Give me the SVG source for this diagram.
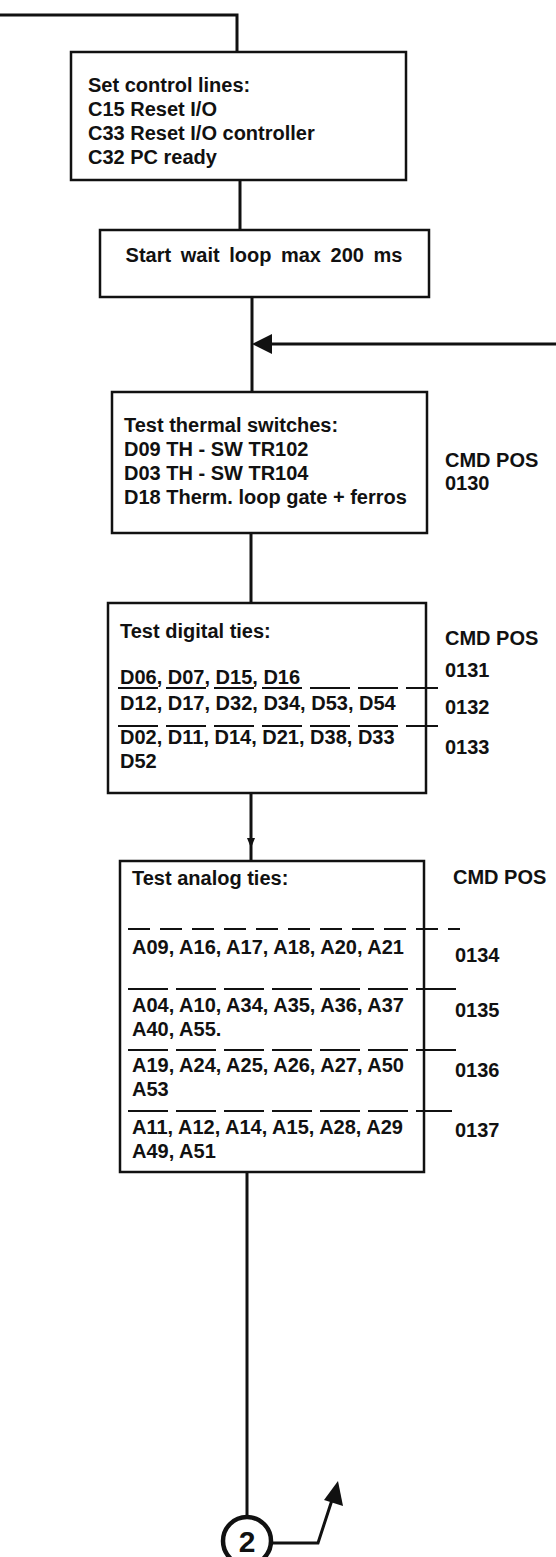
<svg xmlns="http://www.w3.org/2000/svg" width="556" height="1557" viewBox="0 0 556 1557">
<style>
text{font-family:"Liberation Sans",Arial,sans-serif;font-weight:bold;font-size:20px;fill:#111}
.box{fill:#fff;stroke:#111;stroke-width:2.5}
.ln{fill:none;stroke:#111;stroke-width:3}
.sep{fill:none;stroke:#111;stroke-width:2;stroke-dasharray:40 8}
.sep2{fill:none;stroke:#111;stroke-width:2;stroke-dasharray:22 10}
.mid{text-anchor:middle}
</style>
<g id="connectors">
<path class="ln" d="M0,15 H237 V52"/>
<path class="ln" d="M240,180 V230"/>
<path class="ln" d="M252,297 V392"/>
<path class="ln" d="M556,344 H270"/>
<path d="M252,344 L272,334 L272,354 Z" fill="#111"/>
<path class="ln" d="M251,533 V603"/>
<path class="ln" d="M251,793 V861"/>
<path d="M251,848 L247,838 L255,838 Z" fill="#111"/>
<path class="ln" d="M247,1172 V1515"/>
<path class="ln" d="M273,1543 H318 L332,1500"/>
<path d="M338,1481 L343,1506 L324,1500 Z" fill="#111"/>
</g>
<g id="n1">
<rect class="box" x="71" y="52" width="335" height="128"/>
<text x="88" y="92">Set control lines:</text>
<text x="88" y="116">C15 Reset I/O</text>
<text x="88" y="140">C33 Reset I/O controller</text>
<text x="88" y="164">C32 PC ready</text>
</g>
<g id="n2">
<rect class="box" x="100" y="230" width="329" height="67"/>
<text class="mid" x="264" y="262" word-spacing="4">Start wait loop max 200 ms</text>
</g>
<g id="n3">
<rect class="box" x="112" y="392" width="315" height="141"/>
<text x="124" y="432">Test thermal switches:</text>
<text x="124" y="456">D09  TH - SW TR102</text>
<text x="124" y="480">D03  TH - SW TR104</text>
<text x="124" y="504">D18  Therm. loop gate + ferros</text>
<text x="445" y="467">CMD POS</text>
<text x="445" y="490">0130</text>
</g>
<g id="n4">
<rect class="box" x="108" y="603" width="318" height="190"/>
<text x="120" y="638">Test digital ties:</text>
<text x="120" y="684">D06, D07, D15, D16</text>
<path class="sep" d="M118,688 H438"/>
<text x="120" y="710">D12, D17, D32, D34, D53, D54</text>
<path class="sep" d="M118,726 H438"/>
<text x="120" y="744">D02, D11, D14, D21, D38, D33</text>
<text x="120" y="768">D52</text>
<text x="445" y="645">CMD POS</text>
<text x="445" y="677">0131</text>
<text x="445" y="714">0132</text>
<text x="445" y="754">0133</text>
</g>
<g id="n5">
<rect class="box" x="120" y="861" width="304" height="311"/>
<text x="132" y="885">Test analog ties:</text>
<path class="sep2" d="M128,929 H460"/>
<text x="132" y="954">A09, A16, A17, A18, A20, A21</text>
<path class="sep" d="M128,989 H460"/>
<text x="132" y="1012">A04, A10, A34, A35, A36, A37</text>
<text x="132" y="1036">A40, A55.</text>
<path class="sep" d="M128,1050 H458"/>
<text x="132" y="1072">A19, A24, A25, A26, A27, A50</text>
<text x="132" y="1096">A53</text>
<path class="sep" d="M128,1111 H452"/>
<text x="132" y="1134">A11, A12, A14, A15, A28, A29</text>
<text x="132" y="1158">A49, A51</text>
<text x="453" y="884">CMD POS</text>
<text x="455" y="962">0134</text>
<text x="455" y="1017">0135</text>
<text x="455" y="1077">0136</text>
<text x="455" y="1137">0137</text>
</g>
<g id="n6">
<circle cx="247" cy="1541" r="24" fill="#fff" stroke="#111" stroke-width="4.5"/>
<text class="mid" x="247" y="1552" style="font-size:30px">2</text>
</g>
</svg>
